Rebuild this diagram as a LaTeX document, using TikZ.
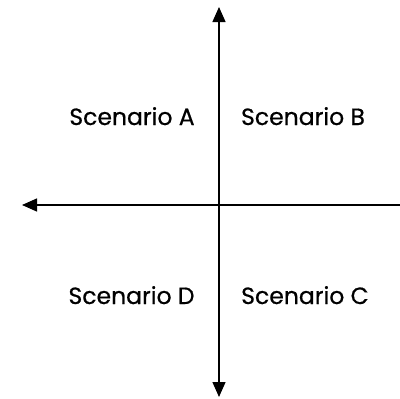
\documentclass[tikz,border=0pt]{standalone}
\usepackage{fontspec}
\setmainfont{Poppins}
\newfontfamily\lblfont{Poppins}[FakeBold=0.6]
\usetikzlibrary{arrows.meta}
\begin{document}
\begin{tikzpicture}[x=1pt,y=-1pt,
  axis/.style={line width=1.3pt,-{Triangle[length=15pt,width=13pt]}},
  lbl/.style={font=\lblfont\fontsize{23.5}{28}\selectfont,inner sep=0pt,anchor=base}]
\useasboundingbox (0,0) rectangle (400,399);
\coordinate (top) at (219,7);
\coordinate (bot) at (219,397);
\coordinate (left) at (22,205);
\coordinate (right) at (400,205);
\coordinate (mid) at (219,205);
\draw[axis] (mid) -- (top);
\draw[axis] (mid) -- (bot);
\draw[axis] (right) -- (left);
\node[lbl] (a) at (132,125) {Scenario A};
\node[lbl] (b) at (303,125) {Scenario B};
\node[lbl] (d) at (131.5,304) {Scenario D};
\node[lbl] (c) at (305,304) {Scenario C};
\end{tikzpicture}
\end{document}
